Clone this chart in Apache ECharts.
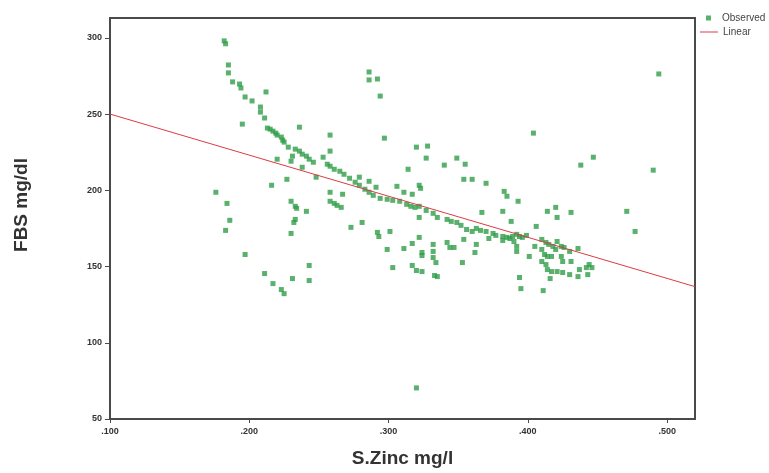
<!DOCTYPE html>
<html>
<head>
<meta charset="utf-8">
<script src="https://cdn.jsdelivr.net/npm/echarts@6/dist/echarts.min.js"></script>
<style>
  html, body { margin: 0; padding: 0; background: #ffffff; }
  #chart { width: 769px; height: 473px; }
</style>
</head>
<body>
<div id="chart"></div>
<script>
// Serum zinc (mg/l) against fasting blood sugar (mg/dl), one entry per subject
const zinc = [
  0.182, 0.183, 0.185, 0.185, 0.188, 0.193, 0.194, 0.197, 0.202, 0.212,
  0.208, 0.208, 0.211, 0.195, 0.213, 0.215, 0.217, 0.219, 0.220, 0.223,
  0.224, 0.225, 0.236, 0.228, 0.233, 0.236, 0.238, 0.241, 0.243, 0.246,
  0.231, 0.230, 0.220, 0.238, 0.248, 0.227, 0.216, 0.253, 0.256, 0.258,
  0.258, 0.286, 0.286, 0.292, 0.294, 0.297, 0.320, 0.328, 0.327, 0.340,
  0.349, 0.355, 0.314, 0.354, 0.360, 0.370, 0.367, 0.230, 0.233, 0.234,
  0.241, 0.233, 0.232, 0.230, 0.258, 0.258, 0.261, 0.263, 0.266, 0.267,
  0.273, 0.281, 0.292, 0.293, 0.301, 0.322, 0.279, 0.286, 0.291, 0.306,
  0.311, 0.317, 0.322, 0.323, 0.322, 0.258, 0.261, 0.265, 0.268, 0.272,
  0.276, 0.279, 0.283, 0.286, 0.289, 0.294, 0.299, 0.303, 0.308, 0.313,
  0.316, 0.319, 0.322, 0.327, 0.332, 0.335, 0.342, 0.345, 0.349, 0.352,
  0.356, 0.360, 0.363, 0.366, 0.370, 0.375, 0.354, 0.299, 0.303, 0.311,
  0.317, 0.324, 0.324, 0.317, 0.320, 0.324, 0.332, 0.332, 0.332, 0.334,
  0.333, 0.335, 0.342, 0.344, 0.347, 0.353, 0.362, 0.363, 0.320, 0.176,
  0.184, 0.186, 0.183, 0.197, 0.211, 0.217, 0.223, 0.225, 0.231, 0.243,
  0.243, 0.438, 0.447, 0.383, 0.385, 0.393, 0.382, 0.388, 0.414, 0.420,
  0.421, 0.431, 0.406, 0.377, 0.382, 0.385, 0.387, 0.389, 0.392, 0.394,
  0.396, 0.399, 0.372, 0.382, 0.390, 0.392, 0.392, 0.401, 0.405, 0.410,
  0.413, 0.415, 0.418, 0.421, 0.424, 0.426, 0.430, 0.436, 0.410, 0.412,
  0.414, 0.417, 0.410, 0.413, 0.414, 0.417, 0.421, 0.425, 0.430, 0.436,
  0.437, 0.442, 0.444, 0.446, 0.420, 0.424, 0.425, 0.431, 0.394, 0.395,
  0.416, 0.411, 0.443, 0.404, 0.494, 0.490, 0.471, 0.477
];
const fbs = [
  298.0, 296.1, 282.2, 277.0, 271.1, 269.7, 267.1, 261.2, 258.6, 264.5,
  254.6, 251.3, 247.4, 243.4, 240.8, 240.1, 238.8, 237.5, 236.2, 234.9,
  232.9, 231.6, 241.4, 228.3, 227.0, 225.7, 223.7, 222.4, 220.4, 218.4,
  222.4, 219.1, 220.4, 215.1, 208.6, 207.2, 203.3, 221.7, 217.1, 236.2,
  225.7, 277.6, 272.4, 273.0, 261.8, 234.2, 228.3, 229.0, 221.1, 216.5,
  221.1, 217.1, 213.8, 207.2, 207.2, 204.6, 185.5, 192.8, 189.5, 188.2,
  186.2, 180.9, 178.9, 171.7, 198.7, 192.8, 191.4, 190.1, 188.8, 197.4,
  175.7, 178.9, 172.4, 169.7, 173.0, 169.1, 208.6, 205.9, 202.0, 202.6,
  198.7, 197.4, 203.3, 201.3, 182.2, 215.8, 213.8, 212.5, 210.5, 207.9,
  205.3, 203.3, 200.7, 198.7, 196.7, 194.7, 194.1, 193.4, 192.8, 190.8,
  189.5, 188.8, 189.5, 186.8, 184.9, 182.2, 180.9, 179.6, 178.9, 177.0,
  174.3, 173.0, 175.0, 173.7, 173.0, 171.7, 167.8, 161.2, 149.3, 161.8,
  165.1, 159.2, 157.2, 150.7, 147.4, 146.7, 164.5, 159.9, 155.9, 152.6,
  144.1, 143.4, 165.8, 162.5, 162.5, 152.6, 159.2, 164.5, 70.4, 198.7,
  191.4, 180.3, 173.7, 157.9, 145.4, 138.8, 134.9, 132.2, 142.1, 150.7,
  140.8, 216.5, 221.7, 199.3, 196.1, 192.8, 186.2, 179.6, 186.2, 188.8,
  182.2, 185.5, 176.3, 170.4, 169.7, 169.1, 168.4, 169.7, 171.1, 169.7,
  169.1, 170.4, 168.4, 167.1, 166.4, 163.2, 159.9, 156.6, 163.2, 167.8,
  165.8, 164.5, 163.2, 166.4, 163.2, 162.5, 159.9, 161.8, 161.2, 157.9,
  156.6, 156.6, 153.3, 151.3, 148.0, 146.7, 146.7, 146.1, 144.7, 143.4,
  148.0, 149.3, 151.3, 149.3, 161.2, 156.6, 153.3, 153.3, 142.8, 135.5,
  142.1, 134.2, 144.7, 237.5, 276.3, 213.2, 186.2, 173.0
];

// Fitted linear trend, evaluated at both ends of the zinc axis
const fitZinc = [0.10, 0.52];
const fitFbs = [250.0, 136.8];

// Axis ranges and tick values
const zincRange = [0.10, 0.52];
const fbsRange = [50, 313];
const zincTicks = [0.1, 0.2, 0.3, 0.4, 0.5];
const fbsTicks = [50, 100, 150, 200, 250, 300];

const frameColor = '#4a4a4a';
const pointColor = '#2f9e48';
const fitColor = '#dd3b44';
const sans = 'Liberation Sans, Arial, sans-serif';
const tickFont = { fontFamily: sans, fontSize: 9, fontWeight: 'bold', color: '#333333' };
const titleFont = { fontFamily: sans, fontSize: 19, fontWeight: 'bold', color: '#333333' };
const legendFont = { fontFamily: sans, fontSize: 10, color: '#444444' };

const chart = echarts.init(document.getElementById('chart'), null, { renderer: 'canvas' });

chart.setOption({
  animation: false,
  backgroundColor: '#ffffff',
  grid: {
    left: 110, top: 18, right: 74, bottom: 54,
    show: true, borderColor: frameColor, borderWidth: 2, backgroundColor: 'transparent'
  },
  legend: [
    {
      data: [{ name: 'Observed', icon: 'rect' }],
      orient: 'vertical', left: 706, top: 13, padding: 0,
      itemWidth: 5, itemHeight: 5,
      textStyle: { ...legendFont, padding: [0, 0, 0, 6] },
      selectedMode: false
    },
    {
      data: [{ name: 'Linear', icon: 'rect' }],
      orient: 'vertical', left: 700, top: 27, padding: 0,
      itemWidth: 18, itemHeight: 1,
      textStyle: legendFont,
      selectedMode: false
    }
  ],
  xAxis: {
    type: 'value',
    min: zincRange[0], max: zincRange[1],
    name: 'S.Zinc mg/l', nameLocation: 'middle', nameGap: 30,
    nameTextStyle: titleFont,
    axisLine: { show: true, lineStyle: { color: frameColor, width: 2 } },
    axisTick: { show: true, customValues: zincTicks, length: 4, lineStyle: { color: frameColor, width: 1 } },
    axisLabel: {
      customValues: zincTicks, margin: 8,
      formatter: v => '.' + v.toFixed(3).split('.')[1],
      ...tickFont
    },
    splitLine: { show: false }
  },
  yAxis: {
    type: 'value',
    min: fbsRange[0], max: fbsRange[1],
    name: 'FBS mg/dl', nameLocation: 'middle', nameGap: 79, nameRotate: 90,
    nameTextStyle: { ...titleFont, padding: [0, 0, 0, 27] },
    axisLine: { show: true, lineStyle: { color: frameColor, width: 2 } },
    axisTick: { show: true, customValues: fbsTicks, length: 5, lineStyle: { color: frameColor, width: 1 } },
    axisLabel: { customValues: fbsTicks, margin: 8, ...tickFont },
    splitLine: { show: false }
  },
  series: [
    {
      name: 'Observed',
      type: 'scatter',
      symbol: 'rect',
      symbolSize: 5,
      itemStyle: { color: pointColor },
      data: zinc.map((z, i) => [z, fbs[i]]),
      z: 3
    },
    {
      name: 'Linear',
      type: 'line',
      symbol: 'none',
      color: fitColor,
      itemStyle: { color: fitColor },
      lineStyle: { color: fitColor, width: 1 },
      data: fitZinc.map((z, i) => [z, fitFbs[i]]),
      z: 4
    }
  ]
});
</script>
</body>
</html>
